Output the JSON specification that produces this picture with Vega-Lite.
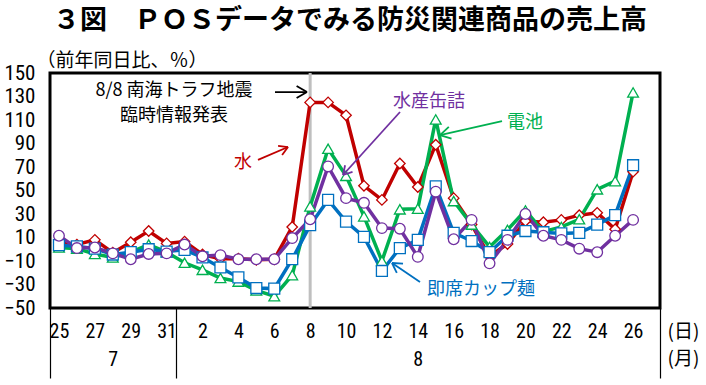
{
  "$schema": "https://vega.github.io/schema/vega-lite/v6.json",
  "autosize": {"type": "none"},
  "width": 610,
  "height": 235,
  "padding": {"left": 50, "top": 73, "right": 46, "bottom": 77},
  "background": "white",
  "config": {
    "view": {"stroke": "black", "strokeWidth": 3},
    "font": "Noto Sans CJK JP"
  },
  "title": {
    "text": "３図　ＰＯＳデータでみる防災関連商品の売上高",
    "anchor": "middle",
    "frame": "group",
    "baseline": "middle",
    "offset": 3,
    "dx": -5,
    "font": "Noto Sans CJK JP",
    "fontSize": 27,
    "fontWeight": "bold",
    "color": "black"
  },
  "datasets": {
    "sales": [
      {"date": "2024-07-25", "水": 6, "水産缶詰": 11.5, "電池": 1.5, "即席カップ麺": 3.5},
      {"date": "2024-07-26", "水": 4, "水産缶詰": 1, "電池": 0.5, "即席カップ麺": 2.5},
      {"date": "2024-07-27", "水": 8, "水産缶詰": 1.5, "電池": -4, "即席カップ麺": 0.5},
      {"date": "2024-07-28", "水": -3, "水産缶詰": -3.5, "電池": -7, "即席カップ麺": -4.5},
      {"date": "2024-07-29", "水": 6, "水産缶詰": -8.5, "電池": -2.5, "即席カップ麺": -2.5},
      {"date": "2024-07-30", "水": 15.5, "水産缶詰": -4, "電池": 4, "即席カップ麺": 0},
      {"date": "2024-07-31", "水": 5, "水産缶詰": -3.5, "電池": -2.5, "即席カップ麺": -2},
      {"date": "2024-08-01", "水": 6.5, "水産缶詰": 4, "電池": -11.5, "即席カップ麺": -0.5},
      {"date": "2024-08-02", "水": -4.5, "水産缶詰": -6, "電池": -17.5, "即席カップ麺": -7},
      {"date": "2024-08-03", "水": -8, "水産缶詰": -5, "電池": -24.5, "即席カップ麺": -15.5},
      {"date": "2024-08-04", "水": -8, "水産缶詰": -8.5, "電池": -27.5, "即席カップ麺": -24},
      {"date": "2024-08-05", "水": -9, "水産缶詰": -8.5, "電池": -35, "即席カップ麺": -33},
      {"date": "2024-08-06", "水": -8.5, "水産缶詰": -8.5, "電池": -40, "即席カップ麺": -33.5},
      {"date": "2024-08-07", "水": 19, "水産缶詰": 9.5, "電池": -22, "即席カップ麺": -8.5},
      {"date": "2024-08-08", "水": 125, "水産缶詰": 25.5, "電池": 36.5, "即席カップ麺": 20.5},
      {"date": "2024-08-09", "水": 125, "水産缶詰": 70.5, "電池": 85.5, "即席カップ麺": 42},
      {"date": "2024-08-10", "水": 114, "水産缶詰": 43.5, "電池": 62.5, "即席カップ麺": 23.5},
      {"date": "2024-08-11", "水": 54, "水産缶詰": 39.5, "電池": 28, "即席カップ麺": 10.5},
      {"date": "2024-08-12", "水": 42, "水産缶詰": 18, "電池": -10, "即席カップ麺": -18.5},
      {"date": "2024-08-13", "水": 73, "水産缶詰": 17.5, "電池": 34, "即席カップ麺": 1},
      {"date": "2024-08-14", "水": 53, "水産缶詰": -6.5, "電池": 34.5, "即席カップ麺": 8},
      {"date": "2024-08-15", "水": 89, "水産缶詰": 49, "電池": 110.5, "即席カップ麺": 53.5},
      {"date": "2024-08-16", "水": 43.5, "水産缶詰": 8.5, "電池": 41, "即席カップ麺": 14},
      {"date": "2024-08-17", "水": 21, "水産缶詰": 25, "電池": 21, "即席カップ麺": 7},
      {"date": "2024-08-18", "水": -6, "水産缶詰": -12, "電池": 2, "即席カップ麺": -2.5},
      {"date": "2024-08-19", "水": 4.5, "水産缶詰": 8, "電池": 16.5, "即席カップ麺": 11.5},
      {"date": "2024-08-20", "水": 24, "水産缶詰": 30, "電池": 33, "即席カップ麺": 15.5},
      {"date": "2024-08-21", "水": 23, "水産缶詰": 11.5, "電池": 15, "即席カップ麺": 14.5},
      {"date": "2024-08-22", "水": 25, "水産缶詰": 8, "電池": 19, "即席カップ麺": 13.5},
      {"date": "2024-08-23", "水": 29, "水産缶詰": 0.5, "電池": 25.5, "即席カップ麺": 14},
      {"date": "2024-08-24", "水": 31, "水産缶詰": -2.5, "電池": 51, "即席カップ麺": 21},
      {"date": "2024-08-25", "水": 17, "水産缶詰": 11.5, "電池": 58, "即席カップ麺": 29},
      {"date": "2024-08-26", "水": 66, "水産缶詰": 25, "電池": 133.5, "即席カップ麺": 71.5}
    ],
    "labels": [
      {"date": "2024-07-31T09:53:00Z", "value": 134.7, "label": "8/8 南海トラフ地震", "series": "注記"},
      {"date": "2024-07-31T09:53:00Z", "value": 113.4, "label": "臨時情報発表", "series": "注記"},
      {"date": "2024-08-04T06:10:00Z", "value": 73.4, "label": "水", "series": "水"},
      {"date": "2024-08-14T15:00:00Z", "value": 125.3, "label": "水産缶詰", "series": "水産缶詰"},
      {"date": "2024-08-19T23:25:00Z", "value": 107.4, "label": "電池", "series": "電池"},
      {"date": "2024-08-17T12:33:00Z", "value": -34.7, "label": "即席カップ麺", "series": "即席カップ麺"}
    ],
    "arrows": [
      {"date": "2024-08-06T00:59:00Z", "value": 133.8, "date2": "2024-08-07T19:48:00Z", "value2": 133.8, "series": "注記"},
      {"date": "2024-08-07T19:48:00Z", "value": 133.8, "date2": "2024-08-07T05:53:00Z", "value2": 138.9, "series": "注記"},
      {"date": "2024-08-07T19:48:00Z", "value": 133.8, "date2": "2024-08-07T05:53:00Z", "value2": 128.7, "series": "注記"},
      {"date": "2024-08-05T02:15:00Z", "value": 76.0, "date2": "2024-08-06T18:23:00Z", "value2": 87.0, "series": "水"},
      {"date": "2024-08-06T18:23:00Z", "value": 87.0, "date2": "2024-08-06T05:08:00Z", "value2": 88.0, "series": "水"},
      {"date": "2024-08-06T18:23:00Z", "value": 87.0, "date2": "2024-08-06T10:29:00Z", "value2": 80.2, "series": "水"},
      {"date": "2024-08-13T00:12:00Z", "value": 116.8, "date2": "2024-08-09T19:57:00Z", "value2": 63.2, "series": "水産缶詰"},
      {"date": "2024-08-09T19:57:00Z", "value": 63.2, "date2": "2024-08-10T08:40:00Z", "value2": 65.8, "series": "水産缶詰"},
      {"date": "2024-08-09T19:57:00Z", "value": 63.2, "date2": "2024-08-09T22:45:00Z", "value2": 71.5, "series": "水産缶詰"},
      {"date": "2024-08-18T16:40:00Z", "value": 109.1, "date2": "2024-08-15T05:43:00Z", "value2": 97.2, "series": "電池"},
      {"date": "2024-08-15T05:43:00Z", "value": 97.2, "date2": "2024-08-15T21:06:00Z", "value2": 94.2, "series": "電池"},
      {"date": "2024-08-15T05:43:00Z", "value": 97.2, "date2": "2024-08-15T17:30:00Z", "value2": 104.1, "series": "電池"},
      {"date": "2024-08-14T02:57:00Z", "value": -27.9, "date2": "2024-08-12T13:29:00Z", "value2": -11.7, "series": "即席カップ麺"},
      {"date": "2024-08-12T13:29:00Z", "value": -11.7, "date2": "2024-08-12T19:55:00Z", "value2": -20.1, "series": "即席カップ麺"},
      {"date": "2024-08-12T13:29:00Z", "value": -11.7, "date2": "2024-08-13T04:13:00Z", "value2": -12.3, "series": "即席カップ麺"}
    ],
    "marker": [{"date": "2024-08-08"}]
  },
  "resolve": {"axis": {"x": "independent", "y": "independent"}},
  "layer": [
    {
      "mark": {"type": "rule", "color": "black", "strokeWidth": 1.2},
      "encoding": {
        "y": {"datum": 0, "type": "quantitative", "scale": {"domain": [-50, 150], "nice": false, "zero": false}, "axis": null}
      }
    },
    {
      "data": {"name": "marker"},
      "mark": {"type": "rule", "color": "#BFBFBF", "strokeWidth": 3},
      "encoding": {
        "x": {
          "field": "date", "type": "temporal",
          "scale": {"type": "utc", "nice": false,
            "domain": [{"year": 2024, "month": 7, "date": 24, "hours": 12, "utc": true}, {"year": 2024, "month": 8, "date": 27, "hours": 12, "utc": true}]},
          "axis": {
            "orient": "bottom",
            "values": [
              {"year": 2024, "month": 7, "date": 24, "hours": 12, "utc": true},
              {"year": 2024, "month": 7, "date": 31, "hours": 12, "utc": true},
              {"year": 2024, "month": 8, "date": 27, "hours": 12, "utc": true}
            ],
            "labels": false, "domain": false, "grid": false,
            "ticks": true, "tickSize": 70, "tickColor": "black", "tickWidth": 1.2,
            "title": null
          }
        }
      }
    },
    {
      "data": {"name": "sales"},
      "transform": [{"fold": ["水", "電池", "即席カップ麺", "水産缶詰"], "as": ["series", "value"]}],
      "mark": {"type": "line", "strokeWidth": 3.5},
      "encoding": {
        "x": {
          "field": "date", "type": "temporal",
          "axis": {
            "orient": "bottom",
            "values": [
              {"year": 2024, "month": 7, "date": 25, "utc": true},
              {"year": 2024, "month": 7, "date": 27, "utc": true},
              {"year": 2024, "month": 7, "date": 29, "utc": true},
              {"year": 2024, "month": 7, "date": 31, "utc": true},
              {"year": 2024, "month": 8, "date": 2, "utc": true},
              {"year": 2024, "month": 8, "date": 4, "utc": true},
              {"year": 2024, "month": 8, "date": 6, "utc": true},
              {"year": 2024, "month": 8, "date": 8, "utc": true},
              {"year": 2024, "month": 8, "date": 10, "utc": true},
              {"year": 2024, "month": 8, "date": 12, "utc": true},
              {"year": 2024, "month": 8, "date": 14, "utc": true},
              {"year": 2024, "month": 8, "date": 16, "utc": true},
              {"year": 2024, "month": 8, "date": 18, "utc": true},
              {"year": 2024, "month": 8, "date": 20, "utc": true},
              {"year": 2024, "month": 8, "date": 22, "utc": true},
              {"year": 2024, "month": 8, "date": 24, "utc": true},
              {"year": 2024, "month": 8, "date": 26, "utc": true}
            ],
            "format": "%-d",
            "ticks": false, "tickSize": 0, "domain": false, "grid": false,
            "labelFont": "Liberation Sans Narrow, Roboto Condensed, DejaVu Sans Condensed, sans-serif",
            "labelFontSize": 20, "labelColor": "black",
            "labelBaseline": "middle", "labelPadding": 23,
            "labelOverlap": false, "labelFlush": false,
            "title": "(日)", "titleAngle": 0, "titleX": 633, "titleY": 23,
            "titleAlign": "center", "titleBaseline": "middle",
            "titleFont": "Noto Sans CJK JP", "titleFontSize": 19, "titleFontWeight": "normal", "titleColor": "black"
          }
        },
        "y": {
          "field": "value", "type": "quantitative",
          "axis": {
            "values": [-50, -30, -10, 10, 30, 50, 70, 90, 110, 130, 150],
            "ticks": false, "tickSize": 0, "domain": false, "grid": false,
            "labelFont": "Liberation Sans Narrow, Roboto Condensed, DejaVu Sans Condensed, sans-serif",
            "labelFontSize": 21, "labelColor": "black", "labelPadding": 15,
            "labelOverlap": false, "labelFlush": false,
            "title": "（前年同日比、％）", "titleAngle": 0, "titleX": -14, "titleY": -13,
            "titleAlign": "left", "titleBaseline": "middle",
            "titleFont": "Noto Sans CJK JP", "titleFontSize": 19, "titleFontWeight": "normal", "titleColor": "black"
          }
        },
        "color": {
          "field": "series", "type": "nominal", "legend": null,
          "scale": {"domain": ["水", "水産缶詰", "電池", "即席カップ麺", "注記"], "range": ["#C00000", "#7030A0", "#00B050", "#0070C0", "#000000"]}
        }
      }
    },
    {
      "data": {"name": "sales"},
      "transform": [{"fold": ["水", "電池", "即席カップ麺", "水産缶詰"], "as": ["series", "value"]}],
      "mark": {"type": "point", "filled": false, "fill": "white", "fillOpacity": 1, "strokeWidth": 1.3, "opacity": 1},
      "encoding": {
        "x": {"field": "date", "type": "temporal", "axis": null},
        "y": {"field": "value", "type": "quantitative", "axis": null},
        "color": {"field": "series", "type": "nominal", "legend": null},
        "shape": {"field": "series", "type": "nominal", "legend": null,
          "scale": {"domain": ["水", "水産缶詰", "電池", "即席カップ麺"], "range": ["diamond", "circle", "triangle-up", "square"]}},
        "size": {"field": "series", "type": "nominal", "legend": null,
          "scale": {"domain": ["水", "水産缶詰", "電池", "即席カップ麺"], "range": [110, 120, 70, 64]}}
      }
    },
    {
      "data": {"name": "arrows"},
      "mark": {"type": "rule", "strokeWidth": 1.8},
      "encoding": {
        "x": {"field": "date", "type": "temporal", "axis": null},
        "x2": {"field": "date2"},
        "y": {"field": "value", "type": "quantitative", "axis": null},
        "y2": {"field": "value2"},
        "color": {"field": "series", "type": "nominal", "legend": null}
      }
    },
    {
      "data": {"name": "labels"},
      "mark": {"type": "text", "font": "Noto Sans CJK JP", "fontSize": 18, "align": "center", "baseline": "middle"},
      "encoding": {
        "x": {
          "field": "date", "type": "temporal",
          "axis": {
            "orient": "bottom",
            "values": [
              {"year": 2024, "month": 7, "date": 28, "utc": true},
              {"year": 2024, "month": 8, "date": 14, "utc": true}
            ],
            "format": "%-m",
            "ticks": false, "tickSize": 0, "domain": false, "grid": false,
            "labelFont": "Liberation Sans Narrow, Roboto Condensed, DejaVu Sans Condensed, sans-serif",
            "labelFontSize": 20, "labelColor": "black",
            "labelBaseline": "middle", "labelPadding": 51,
            "labelOverlap": false, "labelFlush": false,
            "title": "(月)", "titleAngle": 0, "titleX": 633, "titleY": 50,
            "titleAlign": "center", "titleBaseline": "middle",
            "titleFont": "Noto Sans CJK JP", "titleFontSize": 19, "titleFontWeight": "normal", "titleColor": "black"
          }
        },
        "y": {"field": "value", "type": "quantitative", "axis": null},
        "text": {"field": "label"},
        "color": {"field": "series", "type": "nominal", "legend": null}
      }
    }
  ]
}
